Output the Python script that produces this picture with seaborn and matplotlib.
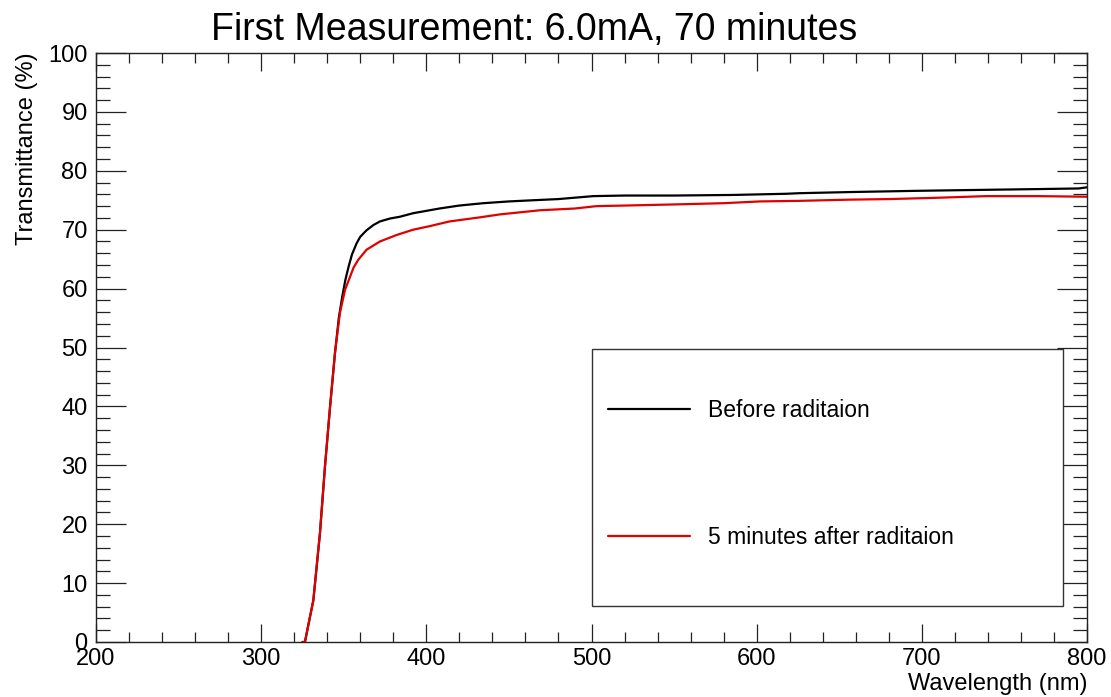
import matplotlib
matplotlib.use("Agg")
import matplotlib.pyplot as plt
from matplotlib.patches import Rectangle
from matplotlib.ticker import MultipleLocator
import seaborn as sns
import pandas as pd

# ---- data ----
wl_before = [325, 326.5, 329, 331.6, 335.6, 338.6, 341.7, 344.7, 347, 349, 351, 353, 355,
             357.8, 360, 363.8, 368, 371.9, 378, 384, 392, 400, 408, 420, 434.5, 450,
             464.6, 480, 501, 520, 550, 585.7, 618, 626, 658, 697, 721, 771, 795, 800]
t_before = [0, 0, 3.5, 7.1, 18.5, 29.7, 39.9, 49.1, 55.0, 58.5, 61.5, 63.8, 65.8,
            67.7, 68.8, 69.9, 70.8, 71.4, 71.9, 72.2, 72.8, 73.2, 73.6, 74.1, 74.5, 74.8,
            75.0, 75.2, 75.7, 75.8, 75.8, 75.9, 76.1, 76.2, 76.4, 76.6, 76.7, 76.9, 77.0, 77.2]

wl_after = [325, 326.5, 329, 331.6, 335.6, 338.6, 341.7, 344.7, 347.7, 350.8, 353.8, 356,
            358.8, 363.8, 371.9, 382, 392, 402, 414, 432.5, 444.6, 468.8, 490, 503, 520,
            551.7, 580, 602, 626, 656, 680, 707, 739, 770, 800]
t_after = [0, 0, 3.5, 7.1, 18.5, 29.7, 39.9, 49.1, 55.9, 59.8, 62.0, 63.6,
           64.9, 66.6, 68.0, 69.1, 70.0, 70.6, 71.4, 72.1, 72.6, 73.3, 73.6, 74.0, 74.1,
           74.3, 74.5, 74.8, 74.9, 75.1, 75.2, 75.4, 75.7, 75.7, 75.6]

series_labels = ["Before raditaion", "5 minutes after raditaion"]
series_colors = ["#000000", "#e00000"]
title_text = "First Measurement: 6.0mA, 70 minutes"
x_label = "Wavelength (nm)"
y_label = "Transmittance (%)"

# ---- style ----
sns.set_theme(style="white")
plt.rcParams["font.family"] = ["Liberation Sans", "DejaVu Sans"]
plt.rcParams["text.color"] = "black"
plt.rcParams["axes.labelcolor"] = "black"

W, H = 1111, 697
fig = plt.figure(figsize=(W / 100, H / 100), dpi=100)
ax = fig.add_axes([96 / W, 1 - 642 / H, 991 / W, 589 / H])

df = pd.concat([
    pd.DataFrame({"wl": wl_before, "T": t_before, "s": series_labels[0]}),
    pd.DataFrame({"wl": wl_after, "T": t_after, "s": series_labels[1]}),
])
sns.lineplot(data=df, x="wl", y="T", hue="s", palette=dict(zip(series_labels, series_colors)),
             linewidth=1.6, ax=ax, legend=False, sort=True, estimator=None)

ax.set_xlim(200, 800)
ax.set_ylim(0, 100)
ax.xaxis.set_major_locator(MultipleLocator(100))
ax.xaxis.set_minor_locator(MultipleLocator(20))
ax.yaxis.set_major_locator(MultipleLocator(10))
ax.yaxis.set_minor_locator(MultipleLocator(2))

for sp in ax.spines.values():
    sp.set_color("#222222")
    sp.set_linewidth(1.0)

ax.tick_params(axis="x", which="major", direction="in", length=13, width=0.9,
               top=True, bottom=True, colors="#222222", labelcolor="black",
               labelsize=17, pad=4)
ax.tick_params(axis="x", which="minor", direction="in", length=7, width=0.9,
               top=True, bottom=True, colors="#222222")
ax.tick_params(axis="y", which="major", direction="in", length=21.5, width=0.9,
               left=True, right=True, colors="#222222", labelcolor="black",
               labelsize=17, pad=6)
ax.tick_params(axis="y", which="minor", direction="in", length=10, width=0.9,
               left=True, right=True, colors="#222222")

ax.set_xlabel("")
ax.set_ylabel("")
fig.text(1087 / W, 1 - 690 / H, x_label, ha="right", va="baseline", fontsize=17, color="black")
fig.text(27 / W, 1 - 52 / H, y_label, ha="center", va="top", rotation=90, fontsize=17,
         color="black")
fig.text(534 / W, 1 - 40 / H, title_text, ha="center", va="baseline", fontsize=27, color="black")

# legend box (ROOT style) and legend entries
ax.add_patch(Rectangle((0.5005, 0.0611), 0.4753, 0.4363, transform=ax.transAxes,
                       facecolor="white", edgecolor="#333333", linewidth=1.0, zorder=5))
handles = [plt.Line2D([], [], color=c, linewidth=1.6) for c in series_colors]
leg = ax.legend(handles, series_labels, loc="upper left", bbox_to_anchor=(0.5166, 0.4126),
                frameon=False, fontsize=16.5, handlelength=3.6, handletextpad=0.75,
                labelspacing=4.55, borderpad=0, borderaxespad=0, labelcolor="black")
leg.set_zorder(6)

fig.savefig("out.png", dpi=100, facecolor="white")
